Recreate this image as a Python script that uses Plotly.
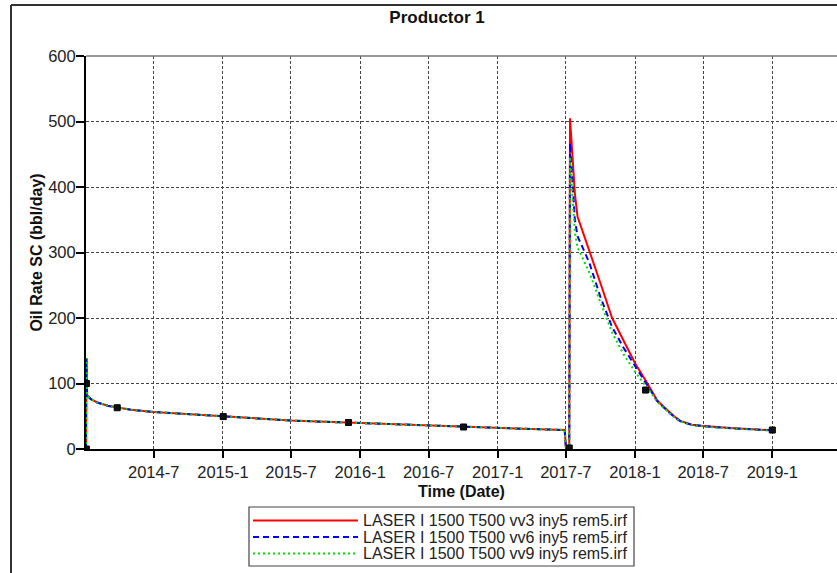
import plotly.graph_objects as go

# ---- series names -------------------------------------------------------
series_names = [
    "LASER I 1500 T500 vv3 iny5 rem5.irf",
    "LASER I 1500 T500 vv6 iny5 rem5.irf",
    "LASER I 1500 T500 vv9 iny5 rem5.irf",
]
series_colors = ["#ff0000", "#0000ff", "#00dd00"]
series_dashes = ["solid", "6px,4px", "2px,3px"]

# ---- primary decline (identical for all cases) ---------------------------
dates_primary = [
    "2014-01-02", "2014-01-03", "2014-01-05", "2014-01-15", "2014-02-01",
    "2014-03-01", "2014-04-01", "2014-05-01", "2014-07-01", "2014-10-01",
    "2015-01-01", "2015-04-01", "2015-07-01", "2015-10-01", "2016-01-01",
    "2016-04-01", "2016-07-01", "2016-10-01", "2017-01-01", "2017-04-01",
    "2017-06-28", "2017-07-01", "2017-07-10",
]
rate_primary = [
    0, 139, 82, 76, 71,
    66, 63, 60, 56.5, 53,
    49.3, 46.5, 43.5, 41.5, 39.5,
    37.5, 35.5, 33.8, 32, 30.5,
    29, 3, 0,
]

# ---- restart response per case --------------------------------------------
dates_restart = [
    "2017-07-12", "2017-07-16", "2017-07-20", "2017-07-25", "2017-08-01",
    "2017-09-01", "2017-10-01", "2017-11-01", "2017-12-01", "2018-01-01",
    "2018-02-01", "2018-02-15", "2018-03-01", "2018-03-15", "2018-04-01",
    "2018-04-15", "2018-05-01", "2018-06-01", "2018-07-01", "2018-08-01",
    "2018-09-01", "2018-10-01", "2018-11-01", "2018-12-01", "2019-01-01",
]
rate_vv3 = [
    505, 470, 430, 390, 355,
    304, 253, 200, 166, 131,
    102, 88, 74, 66, 57,
    50, 43, 37, 35, 33.4,
    32.3, 31.4, 30.4, 29.5, 28.5,
]
rate_vv6 = [
    467, 430, 385, 350, 325,
    285, 232, 186, 155, 126,
    98, 86, 73, 65, 56,
    49, 42.5, 36.8, 34.6, 33.2,
    32.1, 31.2, 30.2, 29.3, 28.3,
]
rate_vv9 = [
    446, 410, 370, 330, 308,
    270, 224, 178, 145, 118,
    94, 84, 72, 64, 55.5,
    48.5, 42, 36.5, 34.4, 33,
    32, 31, 30, 29.2, 28.2,
]
restart_rates = [rate_vv3, rate_vv6, rate_vv9]

# ---- sampled points shown as markers --------------------------------------
marker_dates = [
    "2014-01-03", "2014-01-03", "2014-03-26", "2015-01-02", "2015-12-01",
    "2016-10-02", "2017-07-10", "2018-01-29", "2019-01-01",
]
marker_rates = [100, 0, 63, 49.5, 40.5, 33.6, 1.5, 90, 29]

# ---- axes ticks -------------------------------------------------------------
y_ticks = [0, 100, 200, 300, 400, 500, 600]
x_range = ["2014-01-02", "2019-06-22"]

FONT = "Liberation Sans, Arial, sans-serif"

fig = go.Figure()
for name, color, dash, rates in zip(series_names, series_colors,
                                     series_dashes, restart_rates):
    fig.add_trace(go.Scatter(
        x=dates_primary + dates_restart,
        y=rate_primary + rates,
        mode="lines",
        name=name,
        showlegend=False,
        line=dict(color=color, width=2, dash=dash),
    ))

fig.add_trace(go.Scatter(
    x=marker_dates, y=marker_rates, mode="markers", showlegend=False,
    marker=dict(symbol="square", size=6, color="#111111",
                line=dict(color="#000000", width=1)),
))

# plot-area geometry in pixels (used to place the frame and legend)
W, H = 837, 573
L, T, B = 86, 56, 449
PW, PH = W - L, B - T


def px(xp):
    return (xp - L) / PW


def py(yp):
    return (B - yp) / PH


shapes = [
    # outer frame (top and left edges)
    dict(type="line", xref="paper", yref="paper", x0=px(11), x1=px(900),
         y0=py(5), y1=py(5), line=dict(color="#333333", width=2)),
    dict(type="line", xref="paper", yref="paper", x0=px(11), x1=px(11),
         y0=py(5), y1=py(600), line=dict(color="#333333", width=2)),
    # top edge of the plotting area
    dict(type="line", xref="paper", yref="paper", x0=0, x1=px(900),
         y0=1, y1=1, line=dict(color="#777777", width=1.5)),
    # legend box
    dict(type="rect", xref="paper", yref="paper", x0=px(249), x1=px(634),
         y0=py(507), y1=py(566), line=dict(color="#444444", width=1.2),
         fillcolor="white"),
]
annotations = []
row_y = [520.5, 537, 553.5]
for name, color, dash, ry in zip(series_names, series_colors,
                                 series_dashes, row_y):
    shapes.append(dict(type="line", xref="paper", yref="paper",
                       x0=px(253), x1=px(358), y0=py(ry), y1=py(ry),
                       line=dict(color=color, width=2, dash=dash)))
    annotations.append(dict(xref="paper", yref="paper", x=px(361), y=py(ry),
                            xanchor="left", yanchor="middle", showarrow=False,
                            text=name, font=dict(family=FONT, size=16,
                                                 color="#222222")))

fig.update_layout(
    width=W, height=H,
    margin=dict(l=L, r=0, t=T, b=H - B),
    paper_bgcolor="white", plot_bgcolor="white",
    font=dict(family=FONT, size=16, color="#222222"),
    title=dict(text="Productor 1", x=437 / W, xref="container",
               y=1 - 17 / H, yref="container", xanchor="center",
               yanchor="middle",
               font=dict(family=FONT, size=17, weight="bold", color="#111111")),
    shapes=shapes,
    annotations=annotations,
    showlegend=False,
)

fig.update_xaxes(
    type="date", range=x_range,
    tick0="2014-07-01", dtick="M6", tickformat="%Y-%-m",
    ticks="outside", ticklen=7, tickwidth=2, tickcolor="#000000",
    showline=True, linewidth=2, linecolor="#000000",
    showgrid=True, gridcolor="#444444", gridwidth=1, griddash="3px,2px",
    zeroline=False,
    tickfont=dict(family=FONT, size=16.5, color="#222222"),
    title=dict(text="Time (Date)", standoff=6,
               font=dict(family=FONT, size=16, weight="bold", color="#111111")),
)
fig.update_yaxes(
    range=[0, 600], tickvals=y_ticks,
    ticks="outside", ticklen=8, tickwidth=2, tickcolor="#000000",
    ticklabelstandoff=-3,
    showline=True, linewidth=2, linecolor="#000000",
    showgrid=True, gridcolor="#444444", gridwidth=1, griddash="3px,2px",
    zeroline=False,
    tickfont=dict(family=FONT, size=16.5, color="#222222"),
    title=dict(text="Oil Rate SC (bbl/day)", standoff=2,
               font=dict(family=FONT, size=16, weight="bold", color="#111111")),
)

fig.write_html("out.html")
